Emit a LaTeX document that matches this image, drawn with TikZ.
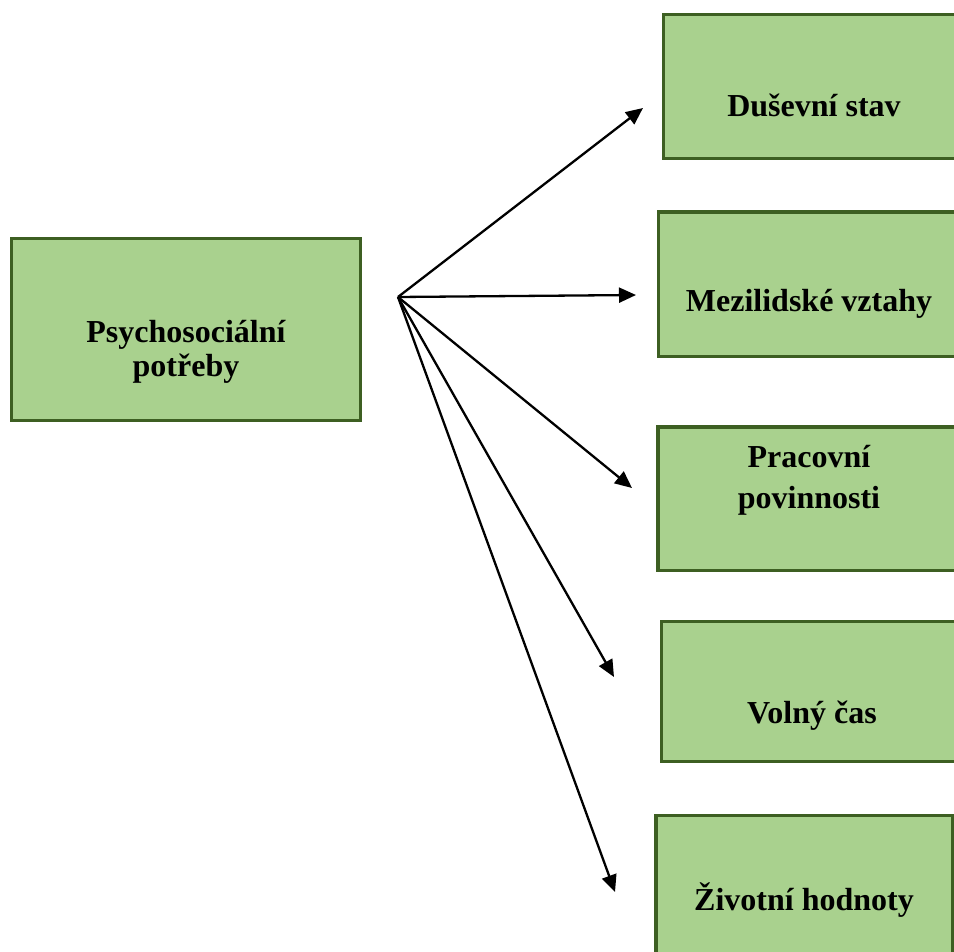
\documentclass[tikz,border=0pt]{standalone}
\usepackage{fontspec}
\setmainfont{Liberation Serif}
\usetikzlibrary{arrows.meta}
\definecolor{boxfill}{HTML}{A9D18E}
\definecolor{boxline}{HTML}{3D5F22}
\tikzset{
  box/.style={draw=boxline, fill=boxfill, line width=3.5pt},
  lbl/.style={font=\bfseries\fontsize{32}{35}\selectfont, anchor=base, align=center, inner sep=0pt},
  conn/.style={line width=2.3pt, -{Triangle[length=17pt,width=15pt]}}
}
\begin{document}
\begin{tikzpicture}[x=1pt,y=-1pt]
\useasboundingbox (0,0) rectangle (954,952);
\clip (0,0) rectangle (954,952);
% boxes
\draw[box] (11.5,238.5) rectangle (360.5,420.5);
\draw[box] (663.5,14.5) rectangle (980,158.5);
\draw[box] (658.5,212) rectangle (980,356.5);
\draw[box] (658,427) rectangle (980,570.5);
\draw[box] (661.5,621.5) rectangle (980,761.5);
\draw[box] (656,815.5) rectangle (952.5,990);
% labels
\node[lbl] (src) at (186,377) {Psychosociální\\potřeby};
\node[lbl] (t1) at (814,117) {Duševní stav};
\node[lbl] (t2) at (809,312) {Mezilidské vztahy};
\node[lbl, font=\bfseries\fontsize{32}{41}\selectfont] (t3) at (809,508) {Pracovní\\povinnosti};
\node[lbl] (t4) at (812,723) {Volný čas};
\node[lbl] (t5) at (804,910) {Životní hodnoty};
% connectors
\coordinate (hub) at (398,297);
\coordinate (e1) at (643,108);
\coordinate (e2) at (636,295);
\coordinate (e3) at (632,488);
\coordinate (e4) at (614,677);
\coordinate (e5) at (615,892);
\foreach \e in {e1,e2,e3,e4,e5} \draw[conn] (hub) -- (\e);
\end{tikzpicture}
\end{document}
